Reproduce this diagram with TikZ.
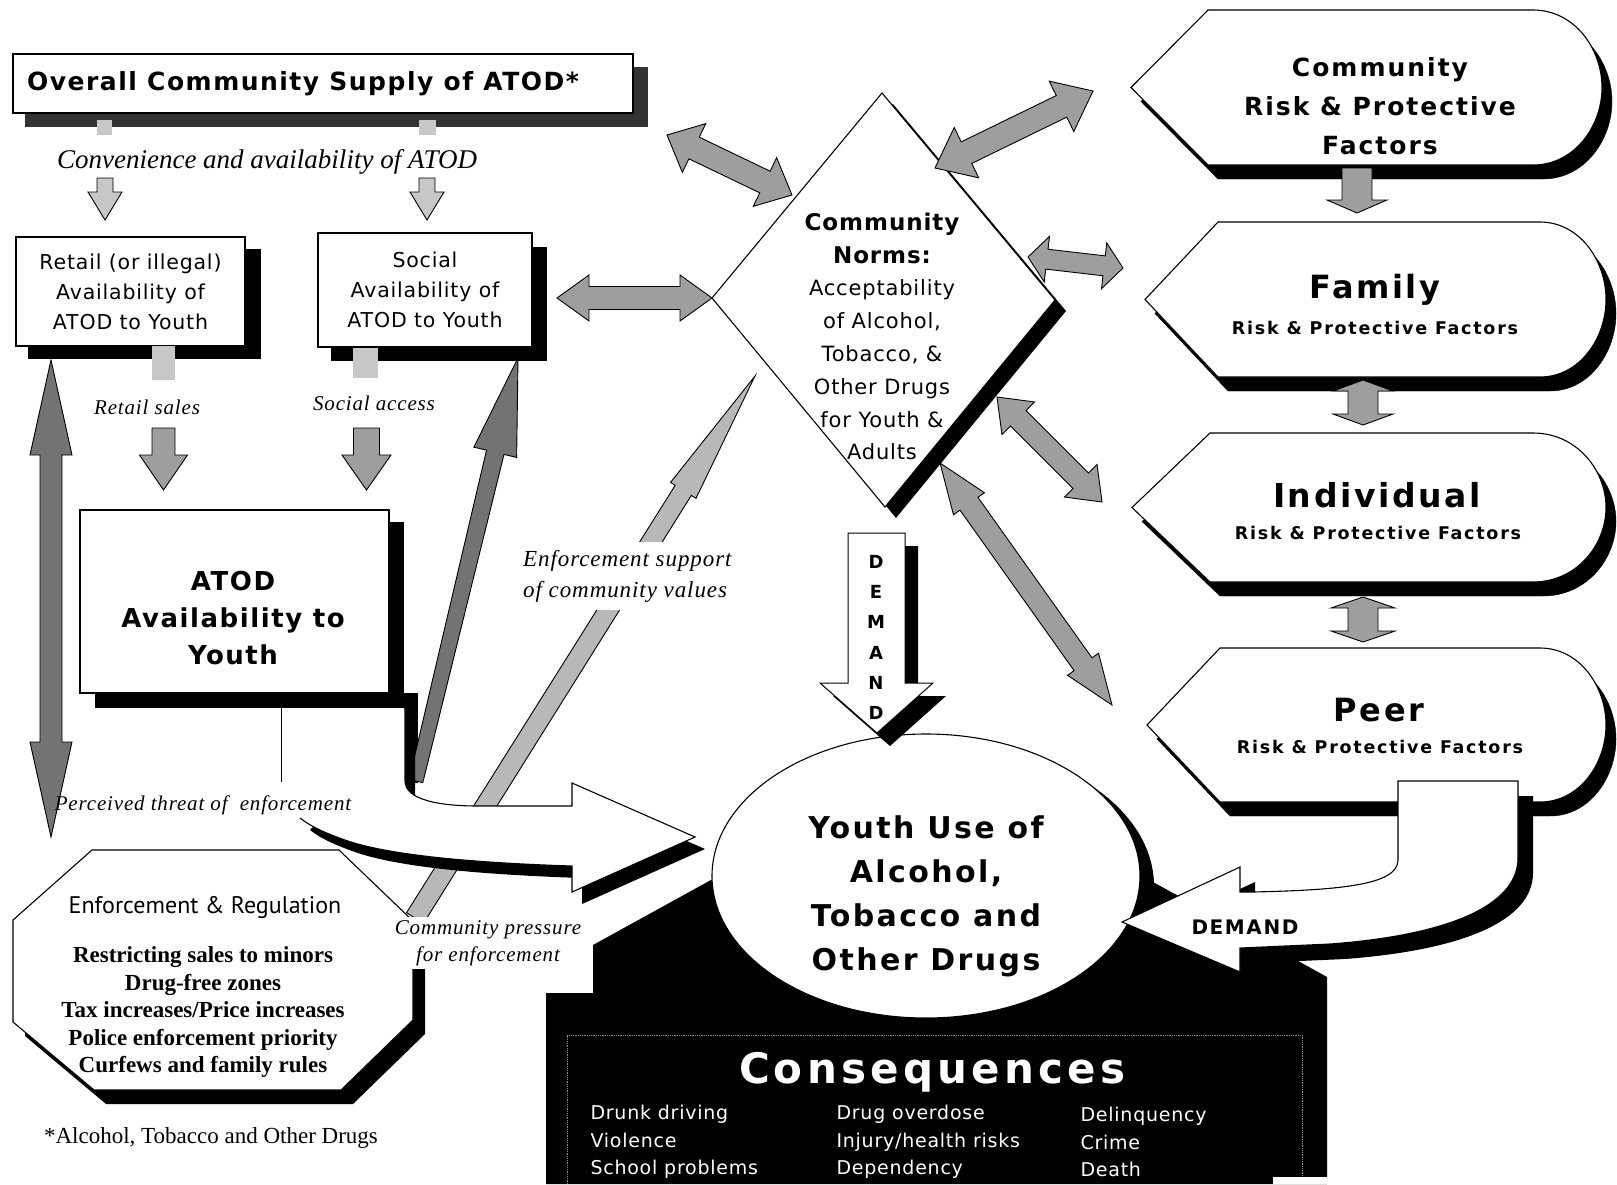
\documentclass[tikz,border=0pt]{standalone}
\usepackage{fontspec}
\setmainfont{Liberation Serif}
\newfontfamily\vsans{DejaVu Sans}
\newfontfamily\vsls{DejaVu Sans}[LetterSpace=4]
\newfontfamily\vslm{DejaVu Sans}[LetterSpace=6]
\newfontfamily\vslw{DejaVu Sans}[LetterSpace=8]
\newfontfamily\vslx{DejaVu Sans}[LetterSpace=10]
\newfontfamily\ptsans{PT Sans}
\newfontfamily\serls{Liberation Serif}[LetterSpace=4]
\usetikzlibrary{calc,shapes.geometric}
\newcommand{\fsz}[2]{\fontsize{#1}{#2}\selectfont}
\definecolor{midg}{gray}{0.62}
\definecolor{lightg}{gray}{0.78}
\definecolor{darkg}{gray}{0.45}
\definecolor{enfg}{gray}{0.72}
% double arrow: A, B, shaft hw, head len, head hw, style
\newcommand{\darrow}[6]{%
\filldraw[#6] (#1) -- ($($(#1)!#4!(#2)$)!#5!90:(#2)$) -- ($($(#1)!#4!(#2)$)!#3!90:(#2)$) -- ($($(#2)!#4!(#1)$)!#3!-90:(#1)$) -- ($($(#2)!#4!(#1)$)!#5!-90:(#1)$) -- (#2) -- ($($(#2)!#4!(#1)$)!#5!90:(#1)$) -- ($($(#2)!#4!(#1)$)!#3!90:(#1)$) -- ($($(#1)!#4!(#2)$)!#3!-90:(#2)$) -- ($($(#1)!#4!(#2)$)!#5!-90:(#2)$) -- cycle;}
% single arrow: A, B, hwA, hwB, head len, head hw, style
\newcommand{\sarrow}[7]{%
\filldraw[#7] ($(#1)!#3!90:(#2)$) -- ($($(#2)!#5!(#1)$)!#4!-90:(#1)$) -- ($($(#2)!#5!(#1)$)!#6!-90:(#1)$) -- (#2) -- ($($(#2)!#5!(#1)$)!#6!90:(#1)$) -- ($($(#2)!#5!(#1)$)!#4!90:(#1)$) -- ($(#1)!#3!-90:(#2)$) -- cycle;}
% shield: L, C, T, B, R, E, style
\newcommand{\shield}[7]{%
\filldraw[#7] (#1,{(#3+#4)/2}) -- (#2,#3) -- (#5,#3) .. controls ({#5+0.6*(#6-#5)},#3) and (#6,{#3+0.25*(#4-#3)}) .. (#6,{(#3+#4)/2}) .. controls (#6,{#4-0.25*(#4-#3)}) and ({#5+0.6*(#6-#5)},#4) .. (#5,#4) -- (#2,#4) -- cycle;}
\tikzset{
 boxw/.style={draw=black, fill=white, line width=1.1pt, inner sep=0pt},
 grayarr/.style={fill=midg, draw=black, line width=0.9pt},
 lightarr/.style={fill=lightg, draw=black, line width=0.9pt},
 darkarr/.style={fill=darkg, draw=black, line width=0.9pt},
 enfarr/.style={fill=enfg, draw=black, line width=0.9pt},
 shieldw/.style={fill=white, draw=black, line width=1.1pt},
 shieldsh/.style={fill=black, shift={(10,14)}},
 itl/.style={font=\serls\itshape\fsz{21}{27}},
 rpf/.style={font=\vslx\bfseries\fsz{17.5}{20}},
}
\begin{document}
\begin{tikzpicture}[x=1pt,y=-1pt,line join=miter]
\useasboundingbox (0,0) rectangle (1617,1184);
\fill[white] (0,0) rectangle (1617,1184);

% ---------- supply box
\fill[black!80] (25,67) rectangle (648,127);
\node[boxw, minimum width=620, minimum height=59] (supplybox) at (323,83.5) {};
\node[font=\vslm\bfseries\fsz{25}{30}] (supply) at (303,84) {Overall Community Supply of ATOD*};
\fill[lightg] (97,120) rectangle (112,135);
\fill[lightg] (419,120) rectangle (436,135);
\node[font=\itshape\fsz{27}{30}] (conv) at (267,162) {Convenience and availability of ATOD};
\sarrow{105,178}{105,220}{8pt}{8pt}{28pt}{17pt}{lightarr}
\sarrow{427,178}{427,220}{8pt}{8pt}{28pt}{17pt}{lightarr}

% ---------- retail & social boxes
\fill[black] (28,249) rectangle (261,359);
\node[boxw, minimum width=229, minimum height=109, align=center, font=\vsls\fsz{20.5}{30}] (retail) at (130.5,291.5) {Retail (or illegal)\\Availability of\\ATOD to Youth};
\fill[black] (331,247) rectangle (547,361);
\node[boxw, minimum width=214, minimum height=114, align=center, font=\vsls\fsz{20.5}{30}] (social) at (425,290) {Social\\Availability of\\ATOD to Youth};
\fill[lightg] (152,346) rectangle (175,380);
\fill[lightg] (353,348) rectangle (378,378);
\node[itl] (rsales) at (147,407) {Retail sales};
\node[itl] (saccess) at (374,403) {Social access};
\sarrow{163.5,428}{163.5,490}{11.5pt}{11.5pt}{35pt}{24pt}{grayarr}
\sarrow{366.5,428}{366.5,490}{13pt}{13pt}{35pt}{24.5pt}{grayarr}

% ---------- ATOD availability box
\fill[black] (95,522) rectangle (404,708);
\node[boxw, minimum width=309, minimum height=183] (atodbox) at (234.5,601.5) {};
\node[align=center, font=\vslm\bfseries\fsz{26}{37}] (atod) at (233,618) {ATOD\\Availability to\\Youth};

% ---------- left double arrow
\darrow{51,360}{51,837}{11pt}{95pt}{21pt}{darkarr}

% ---------- enforcement support arrow
\sarrow{415,918}{755,376}{10pt}{9.5pt}{135pt}{15pt}{enfarr}

% ---------- dark arrow to social box
\fill[black] (404,693) rectangle (418,783);
\sarrow{416,781}{518,358}{7pt}{9pt}{97pt}{22pt}{darkarr}

% ---------- big white band arrow
\fill[black, shift={(10,12)}] (405,708) -- (405,781) .. controls (405,800) and (440,806) .. (478,806) -- (572,806) -- (572,783) -- (695,837) -- (572,892) -- (572,866) .. controls (480,863) and (390,856) .. (345,840) .. controls (325,833) and (310,826) .. (300,818) -- cycle;
\fill[white] (405,708) -- (405,781) .. controls (405,800) and (440,806) .. (478,806) -- (572,806) -- (572,783) -- (695,837) -- (572,892) -- (572,866) .. controls (480,863) and (390,856) .. (345,840) .. controls (325,833) and (310,826) .. (300,818) -- cycle;
\draw[line width=1.1pt] (405,708) -- (405,781) .. controls (405,800) and (440,806) .. (478,806) -- (572,806) -- (572,783) -- (695,837) -- (572,892) -- (572,866) .. controls (480,863) and (390,856) .. (345,840) .. controls (325,833) and (310,826) .. (300,818);

% ---------- perceived threat
\draw[line width=1pt] (281,708) -- (281,782);
\node[itl] (perc) at (203,805) {Perceived threat of\ \ enforcement};

% ---------- enforcement octagon
\fill[black, shift={(12,14)}] (92,850) -- (339,850) -- (413,921) -- (413,1020) -- (341,1090) -- (94,1090) -- (13,1022) -- (13,920) -- cycle;
\filldraw[fill=white, draw=black, line width=1.1pt] (92,850) -- (339,850) -- (413,921) -- (413,1020) -- (341,1090) -- (94,1090) -- (13,1022) -- (13,920) -- cycle;
\node[font=\ptsans\fsz{24}{28}] (enfreg) at (205,907) {Enforcement \& Regulation};
\node[align=center, font=\bfseries\fsz{23}{27.5}] (enflist) at (203,1012) {Restricting sales to minors\\Drug-free zones\\Tax increases/Price increases\\Police enforcement priority\\Curfews and family rules};
\node[align=center, fill=white, inner sep=3pt, font=\serls\itshape\fsz{21}{27}] (cpress) at (488,943) {Community pressure\\for enforcement};
\node[align=left, fill=white, inner xsep=2pt, inner ysep=8pt, anchor=west, font=\serls\itshape\fsz{23}{31}] (esupp) at (521,576) {Enforcement support\\of community values};
\node[font=\fsz{23}{26}] (foot) at (211,1138) {*Alcohol, Tobacco and Other Drugs};

% ---------- consequences region
\fill[black] (546,1184) -- (546,993) -- (593,993) -- (593,945) -- (720,875) -- (1140,875) -- (1300,962) -- (1327,977) -- (1327,1184) -- cycle;
\draw[black!45, densely dotted, line width=0.8pt] (567,1184) -- (567,1035) -- (1302,1035) -- (1302,1184);
\fill[white] (1273,1177) rectangle (1330,1184);
\node[text=white, font=\vslx\bfseries\fsz{42}{46}] (conseq) at (932,1072) {Consequences};
\node[anchor=west, align=left, text=white, font=\vsls\fsz{19}{27.5}] (cq1) at (587,1142) {Drunk driving\\Violence\\School problems};
\node[anchor=west, align=left, text=white, font=\vsls\fsz{19}{27.5}] (cq2) at (833,1142) {Drug overdose\\Injury/health risks\\Dependency};
\node[anchor=west, align=left, text=white, font=\vsls\fsz{19}{27.5}] (cq3) at (1077,1142) {Delinquency\\Crime\\Death};

% ---------- youth use ellipse
\fill[black] (940,886) ellipse [x radius=214pt, y radius=142pt];
\node[draw, ellipse, fill=white, line width=1.1pt, inner sep=0pt, minimum width=428, minimum height=284] (youth) at (926,876) {};
\node[align=center, font=\vslw\bfseries\fsz{30}{44}] (youtht) at (926,896) {Youth Use of\\Alcohol,\\Tobacco and\\Other Drugs};

% ---------- community norms diamond
\fill[black, shift={(11,11)}] (882,93) -- (1055,300) -- (885,507) -- (712,298) -- cycle;
\filldraw[fill=white, draw=black, line width=1.1pt] (882,93) -- (1055,300) -- (885,507) -- (712,298) -- cycle;
\node[align=center, font=\vsls\bfseries\fsz{23}{33}] (normsb) at (882,238.5) {Community\\Norms:};
\node[align=center, font=\vsls\fsz{21}{32.8}] (normsr) at (882,370) {Acceptability\\of Alcohol,\\Tobacco, \&\\Other Drugs\\for Youth \&\\Adults};

% ---------- gray double arrows around the diamond
\darrow{667,135}{792,195}{12pt}{30pt}{27pt}{grayarr}
\darrow{935,168}{1093,91}{12pt}{35pt}{28pt}{grayarr}
\darrow{557,298}{712,298}{11.5pt}{32pt}{23pt}{grayarr}
\darrow{1028,257}{1123,268}{10pt}{19pt}{23pt}{grayarr}
\darrow{997,397}{1102,502}{11pt}{30pt}{23pt}{grayarr}
\darrow{940,463}{1112,705}{11pt}{50pt}{19pt}{grayarr}

% ---------- demand (down) arrow
\fill[black, shift={(13,13)}] (848,533) -- (905,533) -- (905,683) -- (933,683) -- (877,733) -- (820,683) -- (848,683) -- cycle;
\filldraw[fill=white, draw=black, line width=1pt] (848,533) -- (905,533) -- (905,683) -- (933,683) -- (877,733) -- (820,683) -- (848,683) -- cycle;
\node[align=center, font=\vsans\bfseries\fsz{18}{30.2}] (demv) at (876,637.5) {D\\E\\M\\A\\N\\D};

% ---------- right column shields
\shield{1131}{1208}{10}{165}{1533}{1602}{shieldsh}
\shield{1131}{1208}{10}{165}{1533}{1602}{shieldw}
\shield{1145}{1218}{222}{377}{1540}{1606}{shieldsh}
\shield{1145}{1218}{222}{377}{1540}{1606}{shieldw}
\shield{1132}{1210}{433}{582}{1533}{1606}{shieldsh}
\shield{1132}{1210}{433}{582}{1533}{1606}{shieldw}
\shield{1147}{1220}{648}{802}{1540}{1606}{shieldsh}
\shield{1147}{1220}{648}{802}{1540}{1606}{shieldw}
\node[align=center, font=\vslw\bfseries\fsz{25}{39}] (commrp) at (1380,106) {Community\\Risk \& Protective\\Factors};
\node[font=\vslw\bfseries\fsz{32}{36}] (family) at (1375,290) {Family};
\node[rpf] (familyrp) at (1375,328) {Risk \& Protective Factors};
\node[font=\vslw\bfseries\fsz{33}{36}] (indiv) at (1377,495) {Individual};
\node[rpf] (indivrp) at (1378,533) {Risk \& Protective Factors};
\node[font=\vslw\bfseries\fsz{32}{36}] (peer) at (1379,710) {Peer};
\node[rpf] (peerrp) at (1380,747) {Risk \& Protective Factors};
\sarrow{1357,168}{1357,213}{15pt}{15pt}{13pt}{30pt}{grayarr}
\darrow{1363,380}{1363,425}{15pt}{11pt}{30pt}{grayarr}
\darrow{1363,597}{1363,642}{15pt}{11pt}{32pt}{grayarr}

% ---------- demand arrow from peer to youth use
\fill[black, shift={(15,15)}] (1398,781) -- (1518,781) -- (1518,858) .. controls (1518,905) and (1450,935) .. (1330,944) -- (1240,948) -- (1240,972) -- (1122,922) -- (1240,867) -- (1240,892) -- (1253,892) .. controls (1340,890) and (1398,885) .. (1398,860) -- cycle;
\filldraw[fill=white, draw=black, line width=1.1pt] (1398,781) -- (1518,781) -- (1518,858) .. controls (1518,905) and (1450,935) .. (1330,944) -- (1240,948) -- (1240,972) -- (1122,922) -- (1240,867) -- (1240,892) -- (1253,892) .. controls (1340,890) and (1398,885) .. (1398,860) -- cycle;
\node[font=\vslw\bfseries\fsz{20}{24}] (demr) at (1245,927) {DEMAND};
\end{tikzpicture}
\end{document}
